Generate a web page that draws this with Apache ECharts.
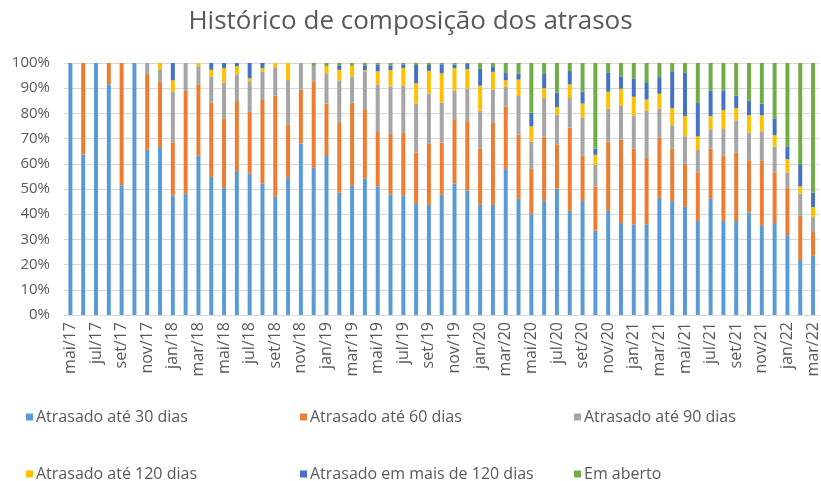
<!DOCTYPE html>
<html>
<head>
<meta charset="utf-8">
<script src="https://cdn.jsdelivr.net/npm/echarts@6/dist/echarts.min.js"></script>
<style>
html,body{margin:0;padding:0;background:#fff;}
#chart{width:821px;height:481px;}
</style>
</head>
<body>
<div id="chart"></div>
<script>
const months = ['mai/17','jun/17','jul/17','ago/17','set/17','out/17','nov/17','dez/17',
 'jan/18','fev/18','mar/18','abr/18','mai/18','jun/18','jul/18','ago/18','set/18','out/18','nov/18','dez/18',
 'jan/19','fev/19','mar/19','abr/19','mai/19','jun/19','jul/19','ago/19','set/19','out/19','nov/19','dez/19',
 'jan/20','fev/20','mar/20','abr/20','mai/20','jun/20','jul/20','ago/20','set/20','out/20','nov/20','dez/20',
 'jan/21','fev/21','mar/21','abr/21','mai/21','jun/21','jul/21','ago/21','set/21','out/21','nov/21','dez/21',
 'jan/22','fev/22','mar/22'];

const seriesNames = ['Atrasado até 30 dias','Atrasado até 60 dias','Atrasado até 90 dias',
 'Atrasado até 120 dias','Atrasado em mais de 120 dias','Em aberto'];

const ate30 = [100,63.7,100,91.6,51.5,100,65.6,66.7,
 47.4,48.1,63.2,54.8,50.5,57.2,56.0,52.1,47.0,54.4,68.1,58.4,
 63.1,48.5,51.3,54.2,51.0,47.8,47.3,44.1,43.7,47.8,52.1,49.5,
 43.7,43.7,57.8,46.1,40.0,45.3,50.2,41.3,45.2,33.5,41.3,36.5,
 35.9,36.0,46.5,45.2,42.9,37.3,46.1,37.3,37.3,40.6,35.6,36.5,
 31.7,21.8,23.5];
const ate60 = [0,36.3,0,8.4,48.5,0,30.0,26.0,
 21.1,41.0,28.4,29.5,27.5,27.7,24.6,33.2,40.1,21.3,21.4,34.3,
 20.8,27.7,33.0,27.5,21.6,24.0,24.9,20.4,24.2,20.6,25.6,27.4,
 22.3,32.7,24.9,25.5,18.0,25.5,17.5,33.1,18.1,17.4,27.5,33.2,
 30.1,26.4,23.8,20.9,17.1,19.3,19.9,25.9,27.1,20.8,25.6,20.1,
 18.8,17.5,9.7];
const ate90 = [0,0,0,0,0,0,4.4,4.8,
 20.2,10.9,7.1,10.4,14.3,10.6,12.1,11.4,11.2,17.5,10.5,6.0,
 11.9,16.9,10.4,15.0,18.9,18.9,18.8,19.4,20.0,15.9,11.4,12.9,
 15.1,13.1,7.9,15.3,10.9,15.3,11.8,11.7,15.1,8.7,13.1,13.3,
 13.2,18.6,11.6,9.2,10.9,8.9,7.7,10.6,12.8,11.0,11.7,10.2,
 6.1,8.9,5.6];
const ate120 = [0,0,0,0,0,0,0,2.5,
 4.4,0,1.3,2.6,5.7,3.2,1.2,1.3,1.7,6.8,0,0,
 3.0,4.2,4.2,0.5,5.2,6.5,7.0,8.1,9.0,11.6,8.9,7.8,
 9.9,7.0,2.5,6.5,6.0,3.9,3.0,5.4,5.5,4.0,6.7,6.8,
 7.4,4.5,5.9,6.8,8.1,5.4,5.3,7.5,4.9,6.9,6.4,4.6,
 5.2,2.8,4.0];
const mais120 = [0,0,0,0,0,0,0,0,
 6.9,0,0,2.7,2.0,1.3,6.1,2.0,0,0,0,0,
 0,1.8,0,1.9,2.6,1.9,1.5,7.2,2.3,3.6,1.3,2.0,
 6.7,1.9,2.9,2.4,5.4,5.9,5.7,5.3,4.8,2.4,7.7,4.9,
 7.3,6.9,6.6,14.6,17.3,13.2,10.1,7.8,5.0,5.8,4.6,6.6,
 4.9,8.8,5.8];
const emAberto = [0,0,0,0,0,0,0,0,
 0,0,0,0,0,0,0,0,0,0,0,1.3,
 1.2,0.9,1.1,0.9,0.7,0.9,0.5,0.8,0.8,0.5,0.7,0.4,
 2.3,1.6,4.0,4.2,19.7,4.1,11.8,3.2,11.3,34.0,3.7,5.3,
 6.1,7.6,5.6,3.3,3.7,15.9,10.9,10.9,12.9,14.9,16.1,22.0,
 33.3,40.2,51.4];

const yTicks = [0,10,20,30,40,50,60,70,80,90,100];

const colors = ['#5B9BD5','#ED7D31','#A5A5A5','#FFC000','#4472C4','#70AD47'];
const allData = [ate30, ate60, ate90, ate120, mais120, emAberto];
const FONT = 'Open Sans';
const TXT = '#595959';

const legendPos = [[21,404],[295,404],[569,404],[21,461],[295,461],[569,461]];

const chart = echarts.init(document.getElementById('chart'), null, {renderer:'canvas'});
chart.setOption({
  animation:false,
  color: colors,
  textStyle:{fontFamily:FONT},
  title:{
    text:'Histórico de composição dos atrasos',
    left:'center', top:4,
    textStyle:{fontFamily:FONT, fontSize:26, fontWeight:'normal', color:TXT}
  },
  legend: seriesNames.map((n,i)=>({
    data:[n], left:legendPos[i][0], top:legendPos[i][1],
    itemWidth:7, itemHeight:7, itemGap:4, icon:'rect',
    textStyle:{fontFamily:FONT, fontSize:16, color:TXT, padding:[0,0,0,-2]}
  })),
  grid:{left:64, right:-3, top:63, bottom:166, containLabel:false},
  xAxis:{
    type:'category', data:months,
    axisLine:{lineStyle:{color:'#D9D9D9', width:1}},
    axisTick:{show:false},
    axisLabel:{rotate:90, interval:1, color:TXT, fontFamily:FONT, fontSize:16, margin:7}
  },
  yAxis:{
    type:'value', min:yTicks[0], max:yTicks[yTicks.length-1], interval:10,
    axisLine:{show:false}, axisTick:{show:false},
    splitLine:{lineStyle:{color:'#D9D9D9', width:1}},
    axisLabel:{formatter:'{value}%', color:TXT, fontFamily:FONT, fontSize:15, margin:14}
  },
  series: seriesNames.map((n,i)=>({
    name:n, type:'bar', stack:'total', barWidth:4,
    data: allData[i],
    itemStyle:{color:colors[i]}
  }))
});
</script>
</body>
</html>
